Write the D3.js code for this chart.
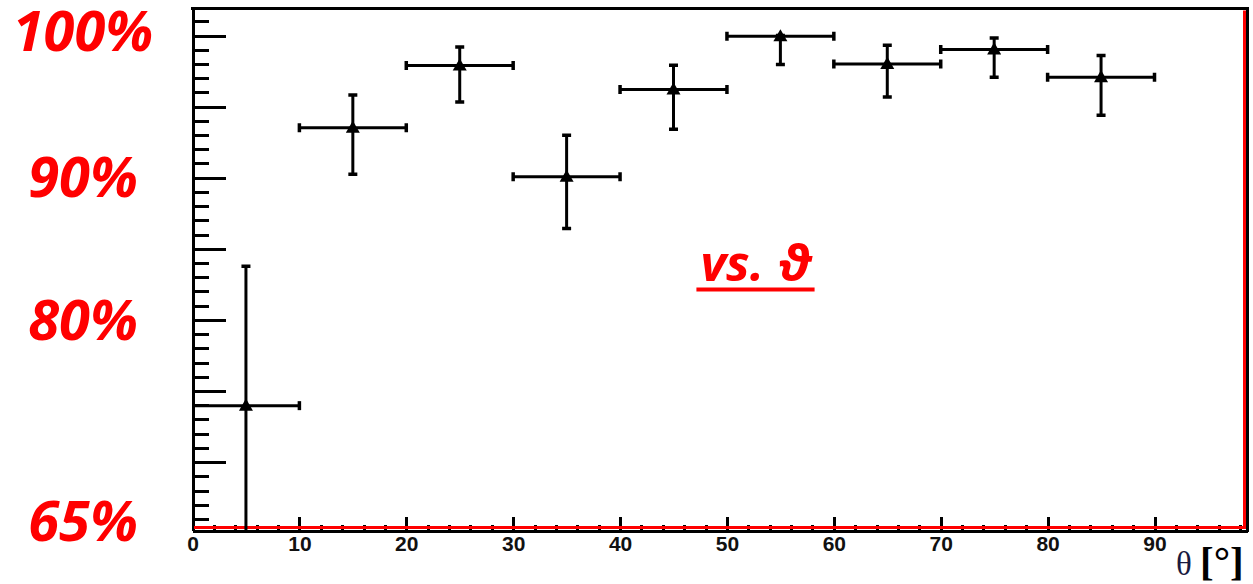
<!DOCTYPE html>
<html lang="en">
<head>
<meta charset="UTF-8">
<title>Efficiency vs theta</title>
<script src="https://d3js.org/d3.v7.min.js"></script>
<style>
    body { margin: 0; background: #fff; }
    .axis path, .axis line { stroke: #000; stroke-width: 3; shape-rendering: crispEdges; }
    .axis text { font-family: "Liberation Sans", Arial, sans-serif; font-weight: bold; font-size: 21px; fill: #111; }
    .pct { font-family: "Open Sans", sans-serif; font-weight: bold; font-style: italic; font-size: 56px; fill: #ff0000; }
</style>
</head>
<body>
<div id="chart"></div>
<script>
    // bins in theta (deg), efficiency in %, asymmetric errors
    const binCenters = [5, 15, 25, 35, 45, 55, 65, 75, 85];
    const binHalfWidth = 5;
    const efficiency = [73.97, 93.51, 97.89, 90.07, 96.21, 99.95, 98.0, 99.02, 97.07];
    const errUp  = [9.81, 2.30, 1.31, 2.91, 1.70, 0.05, 1.32, 0.81, 1.53];
    const errLow = [10.0, 3.27, 2.57, 3.65, 2.81, 1.99, 2.33, 1.95, 2.67];

    const xMajorTicks = [0, 10, 20, 30, 40, 50, 60, 70, 80, 90];
    const yMajorTicks = [70, 75, 80, 85, 90, 95, 100];
    const pctLabels = [100, 90, 80, 65];

    const W = 1253, H = 584;
    const pLeft = 192.5, pRight = 1247.5, pTop = 8.5, pBottom = 530.5;

    const svg = d3.select("#chart").append("svg")
        .attr("width", W).attr("height", H);

    const x = d3.scaleLinear().domain([0, 98.7]).range([pLeft, pRight]);
    const y = d3.scaleLinear().domain([65.19, 101.9]).range([pBottom, pTop]);

    svg.append("clipPath").attr("id", "plot")
        .append("rect")
        .attr("x", pLeft).attr("y", pTop)
        .attr("width", pRight - pLeft).attr("height", pBottom - pTop);

    // minor x ticks every 2 deg
    svg.append("g").attr("class", "axis")
        .attr("transform", `translate(0,${pBottom})`)
        .call(d3.axisBottom(x).tickValues(d3.range(0, 99, 2)).tickSize(-6).tickSizeOuter(0).tickFormat(""));
    svg.append("g").attr("class", "axis")
        .attr("transform", `translate(0,${pBottom})`)
        .call(d3.axisBottom(x).tickValues(xMajorTicks).tickSize(-14).tickSizeOuter(0).tickPadding(6).tickFormat(d3.format("d")));

    // y ticks
    svg.append("g").attr("class", "axis")
        .attr("transform", `translate(${pLeft},0)`)
        .call(d3.axisLeft(y).tickValues(d3.range(66, 102, 1)).tickSize(-16).tickSizeOuter(0).tickFormat(""));
    svg.append("g").attr("class", "axis")
        .attr("transform", `translate(${pLeft},0)`)
        .call(d3.axisLeft(y).tickValues(yMajorTicks).tickSize(-33).tickSizeOuter(0).tickFormat(""));

    // frame: top and right
    svg.append("line").attr("x1", pLeft - 1.5).attr("x2", pRight + 1.5).attr("y1", pTop).attr("y2", pTop)
        .attr("stroke", "#000").attr("stroke-width", 3);
    svg.append("line").attr("x1", pRight).attr("x2", pRight).attr("y1", pTop).attr("y2", pBottom + 1.5)
        .attr("stroke", "#000").attr("stroke-width", 3);

    // red overlay lines
    svg.append("line").attr("x1", pLeft + 1.5).attr("x2", pRight - 1.5).attr("y1", pBottom - 3).attr("y2", pBottom - 3)
        .attr("stroke", "#ff0000").attr("stroke-width", 3);
    svg.append("line").attr("x1", pRight - 3).attr("x2", pRight - 3).attr("y1", pTop + 2).attr("y2", pBottom - 1.5)
        .attr("stroke", "#ff0000").attr("stroke-width", 3);

    // data with error bars
    const data = binCenters.map((c, i) => ({c, v: efficiency[i], up: errUp[i], lo: errLow[i]}));
    const g = svg.append("g").attr("clip-path", "url(#plot)");
    const cap = 4.5;

    data.forEach(d => {
        const cx = x(d.c), cy = y(d.v);
        const x0 = x(d.c - binHalfWidth), x1 = x(d.c + binHalfWidth);
        const yt = y(d.v + d.up), yb = y(d.v - d.lo);
        g.append("line").attr("x1", x0).attr("x2", x1).attr("y1", cy).attr("y2", cy)
            .attr("stroke", "#000").attr("stroke-width", 3);
        g.append("line").attr("x1", cx).attr("x2", cx).attr("y1", yt).attr("y2", yb)
            .attr("stroke", "#000").attr("stroke-width", 3);
        [x0, x1].forEach(xx => g.append("line")
            .attr("x1", xx).attr("x2", xx).attr("y1", cy - cap).attr("y2", cy + cap)
            .attr("stroke", "#000").attr("stroke-width", 3.5));
        [yt, yb].forEach(yy => g.append("line")
            .attr("x1", cx - cap).attr("x2", cx + cap).attr("y1", yy).attr("y2", yy)
            .attr("stroke", "#000").attr("stroke-width", 3.5));
        g.append("path")
            .attr("d", d3.symbol(d3.symbolTriangle, 85)())
            .attr("transform", `translate(${cx},${cy + 1})`)
            .attr("fill", "#000");
    });

    // red percentage labels
    svg.selectAll(".pct").data(pctLabels).enter().append("text")
        .attr("class", "pct")
        .attr("x", 83)
        .attr("y", d => Math.min(y(d), 521))
        .attr("dy", d => d === 100 ? "0.28em" : "0.35em")
        .attr("text-anchor", "middle")
        .text(d => d + "%");

    // "vs. ϑ" annotation, underlined
    const vs = svg.append("text")
        .attr("class", "pct")
        .attr("x", 756).attr("y", 281)
        .attr("text-anchor", "middle")
        .style("font-size", "50px")
        .text("vs. \u03D1");
    const len = vs.node().getComputedTextLength();
    svg.append("line")
        .attr("x1", 756 - len / 2 - 4).attr("x2", 756 + len / 2 + 3)
        .attr("y1", 289.5).attr("y2", 289.5)
        .attr("stroke", "#ff0000").attr("stroke-width", 4);

    // axis title
    const t = svg.append("text")
        .attr("x", 1176).attr("y", 575)
        .style("font-family", "'Liberation Serif', 'Times New Roman', serif")
        .style("font-size", "33px")
        .attr("fill", "#1a1a40");
    t.append("tspan").text("\u03B8 ");
    t.append("tspan").style("font-weight", "bold").style("font-size", "41px").attr("fill", "#000").text("[\u00B0]");
</script>
</body>
</html>
